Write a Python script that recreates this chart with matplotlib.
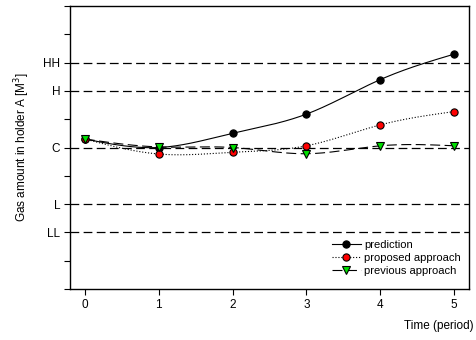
import numpy as np
import matplotlib
matplotlib.use("Agg")
import matplotlib.pyplot as plt

plt.rcParams['font.family'] = ['Liberation Sans', 'DejaVu Sans']

time = [0, 1, 2, 3, 4, 5]
prediction = [5.3, 5.0, 5.5, 6.18, 7.4, 8.3]
proposed = [5.3, 4.77, 4.83, 5.06, 5.8, 6.27]
previous = [5.3, 5.02, 5.0, 4.78, 5.06, 5.06]

level_pos = [0, 1, 2, 3, 4, 5, 6, 7, 8, 9, 10]
level_labels = ['', '', 'LL', 'L', '', 'C', '', 'H', 'HH', '', '']
ref_levels = [2, 3, 5, 7, 8]


def smooth(x, y, n=200):
    # natural cubic spline, only for drawing the connecting curve
    x = np.asarray(x, float)
    y = np.asarray(y, float)
    k = len(x)
    h = np.diff(x)
    A = np.zeros((k, k))
    b = np.zeros(k)
    A[0, 0] = A[-1, -1] = 1
    for i in range(1, k - 1):
        A[i, i - 1] = h[i - 1]
        A[i, i] = 2 * (h[i - 1] + h[i])
        A[i, i + 1] = h[i]
        b[i] = 6 * ((y[i + 1] - y[i]) / h[i] - (y[i] - y[i - 1]) / h[i - 1])
    m = np.linalg.solve(A, b)
    xs = np.linspace(x[0], x[-1], n)
    idx = np.clip(np.searchsorted(x, xs) - 1, 0, k - 2)
    t = xs - x[idx]
    hi = h[idx]
    a = y[idx]
    bb = (y[idx + 1] - y[idx]) / hi - hi * (2 * m[idx] + m[idx + 1]) / 6
    c = m[idx] / 2
    d = (m[idx + 1] - m[idx]) / (6 * hi)
    return xs, a + bb * t + c * t ** 2 + d * t ** 3


fig = plt.figure(figsize=(4.76, 3.4), dpi=100)
ax = fig.add_axes([70 / 476, 51 / 340, 399 / 476, 283 / 340])

for lv in ref_levels:
    ax.axhline(lv, color='black', lw=0.9, dashes=(7, 3.5), zorder=1)

series = [
    (prediction, '-', 'o', 'black', 'prediction'),
    (proposed, ':', 'o', 'red', 'proposed approach'),
    (previous, (0, (9, 4)), 'v', '#00e000', 'previous approach'),
]
for vals, ls, mk, fc, name in series:
    xs, ys = smooth(time, vals)
    ax.plot(xs, ys, color='black', lw=0.8, ls=ls, zorder=2)
    ax.plot(time, vals, ls='none', marker=mk, ms=5.2, mfc=fc, mec='black',
            mew=0.8, zorder=3)
    ax.plot([], [], color='black', lw=0.8, ls=ls, marker=mk, ms=5.2, mfc=fc,
            mec='black', mew=0.8, label=name)

ax.set_xlim(-0.2, 5.2)
ax.set_ylim(0, 10)
ax.set_xticks(time)
ax.set_yticks(level_pos)
ax.set_yticklabels(level_labels)
ax.tick_params(direction='out', length=4, width=0.8, labelsize=8.5, pad=3)
for s in ax.spines.values():
    s.set_linewidth(1.0)

ax.set_ylabel('Gas amount in holder A [M$^3$]', fontsize=8.5, labelpad=8)
fig.text(474 / 476, 14 / 340, 'Time (period)', ha='right', va='center', fontsize=8.5)

ax.legend(loc='lower right', bbox_to_anchor=(0.98, 0.045), frameon=False,
          fontsize=8, handlelength=2.6, handletextpad=0.3, labelspacing=0.3,
          borderaxespad=0, borderpad=0)

fig.savefig('out.png', dpi=100)
